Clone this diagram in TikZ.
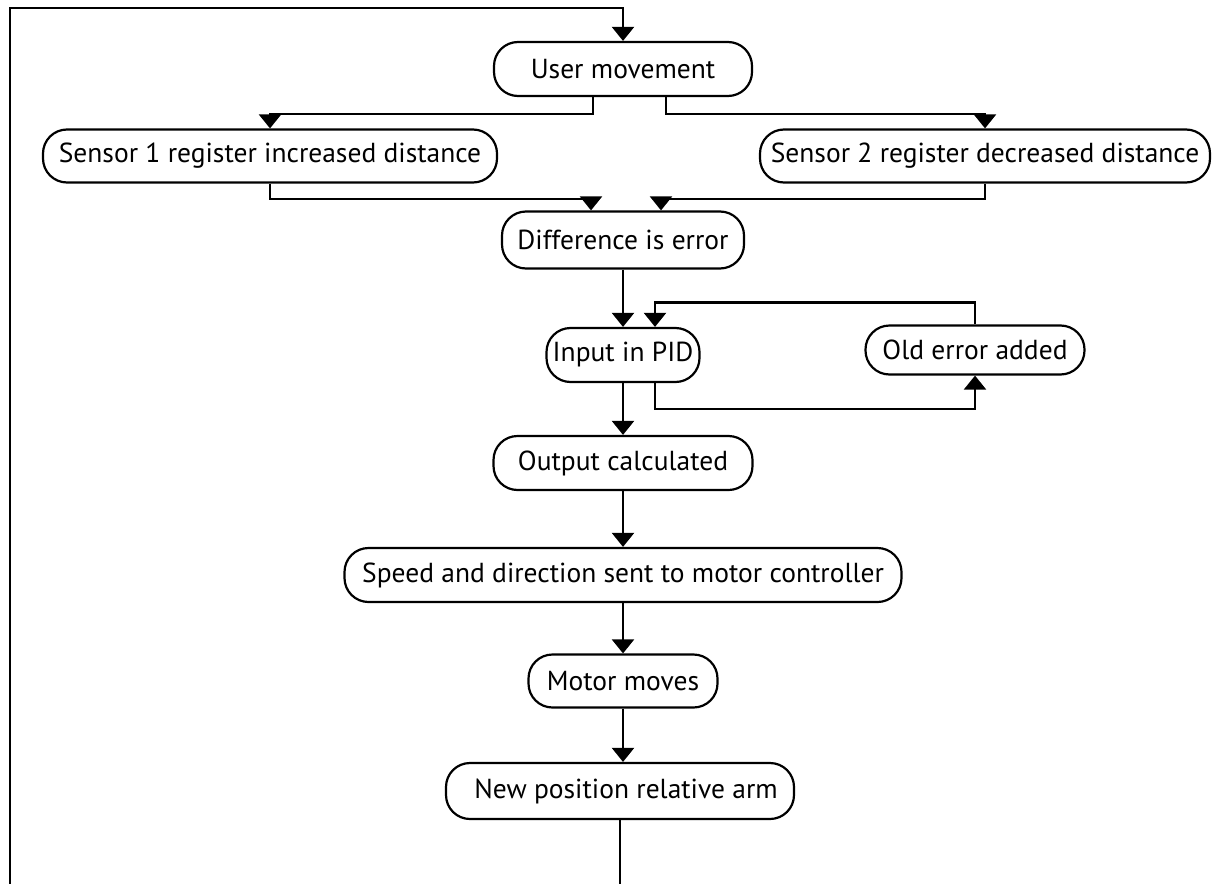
\documentclass[tikz,border=0pt]{standalone}
\usepackage{fontspec}
\setmainfont{PT Sans}
\usepackage{tikz}
\usetikzlibrary{calc,arrows.meta}

\begin{document}
\begin{tikzpicture}[x=1pt,y=-1pt,
    stage/.style={draw,line width=2.2pt,rounded corners=24pt,inner sep=0pt,
        font=\fontsize{27.5}{32}\selectfont},
    flow/.style={line width=2.2pt,-{Triangle[length=14pt,width=22pt]}},
    plain/.style={line width=2.2pt}]
    \useasboundingbox (0,0) rectangle (1220,883);
    % boxes
    \node[stage,minimum width=258pt,minimum height=54pt] (user)   at (623,69)  {User movement};
    \node[stage,minimum width=454pt,minimum height=53pt] (sensA)  at (270,156) {Sensor 1 register increased distance};
    \node[stage,minimum width=450pt,minimum height=53pt] (sensB)  at (985,156) {Sensor 2 register decreased distance};
    \node[stage,minimum width=242pt,minimum height=57pt] (diff)   at (623,240) {Difference is error};
    \node[stage,minimum width=153pt,minimum height=54pt] (input)  at (623,355) {Input in PID};
    \node[stage,minimum width=219pt,minimum height=49pt] (olderr) at (975,350) {Old error added};
    \node[stage,minimum width=259pt,minimum height=54pt] (output) at (623,463) {Output calculated};
    \node[stage,minimum width=557pt,minimum height=54pt] (speed)  at (623,575) {Speed and direction sent to motor controller};
    \node[stage,minimum width=189pt,minimum height=53pt] (motor)  at (623,681) {Motor moves};
    \node[stage,minimum width=348pt,minimum height=56pt] (newpos) at (620,791) {\hspace{12pt}New position relative arm};
    % loop back to the top
    \coordinate (loopR) at (newpos.south |- 0,895);
    \coordinate (loopL) at (10,895);
    \coordinate (loopT) at (10,8);
    \draw[plain] (newpos.south) -- (loopR);
    \draw[flow] (loopL) -- (loopT) -| (user.north);
    % split and join
    \draw[flow] ([xshift=-30pt]user.south) -- ++(0,17) -| (sensA.north);
    \draw[flow] ([xshift=43pt]user.south) -- ++(0,17) -| (sensB.north);
    \draw[flow] (sensA.south) -- ++(0,15) -| ([xshift=-32pt]diff.north);
    \draw[flow] (sensB.south) -- ++(0,15) -| ([xshift=38pt]diff.north);
    \draw[flow] (diff) -- (input);
    % old error
    \draw[flow] (olderr.north) -- ++(0,-22) -| ([xshift=32pt]input.north);
    \draw[flow] ([xshift=32pt]input.south) -- ++(0,26) -| (olderr.south);
    \draw[flow] (input) -- (output);
    \draw[flow] (output) -- (speed);
    \draw[flow] (speed) -- (motor);
    \draw[flow] (motor.south) -- (newpos.north -| motor.south);
\end{tikzpicture}
\end{document}
